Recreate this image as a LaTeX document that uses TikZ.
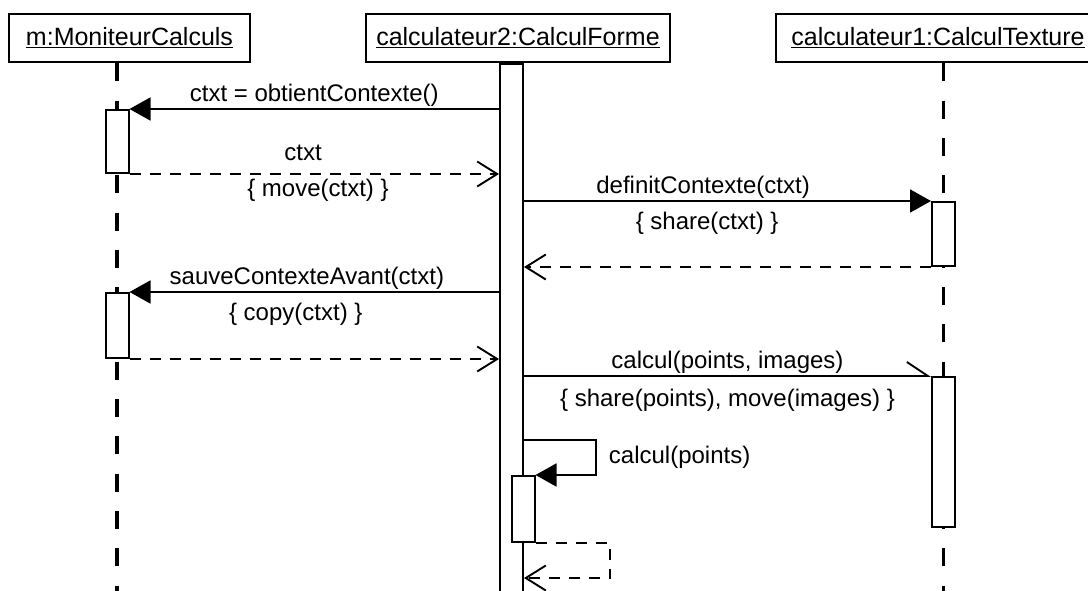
\documentclass[tikz,border=0pt]{standalone}
\usepackage{fontspec}
\setmainfont{Liberation Sans}
\usetikzlibrary{arrows.meta, positioning, calc}

\begin{document}
\begin{tikzpicture}[
    x=1pt, y=-1pt,
    font=\fontsize{24}{28}\selectfont,
    objet/.style={rectangle, draw=black, line width=2.6pt, minimum height=48pt, font=\fontsize{25}{30}\selectfont},
    activation/.style={rectangle, draw=black, fill=white, line width=2pt, minimum width=23pt, inner sep=0pt},
    ligne_vie/.style={line width=3.6pt, dash pattern=on 18pt off 19.3pt},
    appel/.style={-{Triangle[length=21pt, width=23pt]}, line width=1.9pt},
    appel_async/.style={-{Straight Barb[left, length=21pt, width=28pt]}, line width=1.9pt},
    retour/.style={-{Straight Barb[length=20pt, width=25pt]}, line width=1.9pt, dash pattern=on 11pt off 9pt},
    etiquette/.style={inner sep=2pt}
]
    \useasboundingbox (0,0) rectangle (1088,590);

    % Objets
    \node[objet, minimum width=241pt] (moniteur) at (129.5,38) {\underline{m:MoniteurCalculs}};
    \node[objet, minimum width=304pt] (forme) at (518,38) {\underline{calculateur2:CalculForme}};
    \node[objet, minimum width=324pt] (texture) at (938,38) {\underline{calculateur1:CalculTexture}};

    % Lignes de vie
    \coordinate (vie_moniteur) at (117,0);
    \coordinate (vie_forme) at (511.5,0);
    \coordinate (vie_texture) at (943.5,0);
    \draw[ligne_vie] (moniteur.south -| vie_moniteur) -- (vie_moniteur |- 0,600);
    \draw[ligne_vie] (texture.south -| vie_texture) -- (vie_texture |- 0,600);

    % Activations
    \node[activation, minimum height=540pt, anchor=north] (barre_forme) at (forme.south -| vie_forme) {};
    \node[activation, minimum height=63pt] (act_moniteur1) at (vie_moniteur |- 0,141.5) {};
    \node[activation, minimum height=64pt] (act_texture1) at (vie_texture |- 0,234) {};
    \node[activation, minimum height=65pt] (act_moniteur2) at (vie_moniteur |- 0,325.5) {};
    \node[activation, minimum height=150pt] (act_texture2) at (vie_texture |- 0,452) {};
    \node[activation, minimum height=66pt] (act_forme) at (523,509) {};

    % Messages
    \draw[appel] (barre_forme.west |- act_moniteur1.north) -- node[etiquette, above] {ctxt = obtientContexte()} (act_moniteur1.north east);
    \draw[retour] (act_moniteur1.south east) -- node[etiquette, above=10pt, pos=0.47] {ctxt} node[etiquette, below=2pt, pos=0.51] {\{ move(ctxt) \}} (barre_forme.west |- act_moniteur1.south);

    \draw[appel] (barre_forme.east |- act_texture1.north) -- node[etiquette, above, pos=0.44] {definitContexte(ctxt)} node[etiquette, below=8pt, pos=0.45] {\{ share(ctxt) \}} (act_texture1.north west);
    \draw[retour] (act_texture1.south west) -- (barre_forme.east |- act_texture1.south);

    \draw[appel] (barre_forme.west |- act_moniteur2.north) -- node[etiquette, above, pos=0.52] {sauveContexteAvant(ctxt)} node[etiquette, below=8pt, pos=0.55] {\{ copy(ctxt) \}} (act_moniteur2.north east);
    \draw[retour] (act_moniteur2.south east) -- (barre_forme.west |- act_moniteur2.south);

    \draw[appel_async] (barre_forme.east |- act_texture2.north) -- node[etiquette, above] {calcul(points, images)} node[etiquette, below=10pt] {\{ share(points), move(images) \}} (act_texture2.north west);

    % Appel recursif
    \coordinate (boucle) at (596,0);
    \coordinate (boucle_retour) at (610,0);
    \draw[appel] (barre_forme.east |- 0,440) -| node[etiquette, right=10pt, pos=0.75] {calcul(points)} (boucle |- act_forme.north) -- (act_forme.north east);
    \draw[retour] (act_forme.south east) -| (boucle_retour |- 0,578) -- (barre_forme.east |- 0,578);

\end{tikzpicture}
\end{document}
